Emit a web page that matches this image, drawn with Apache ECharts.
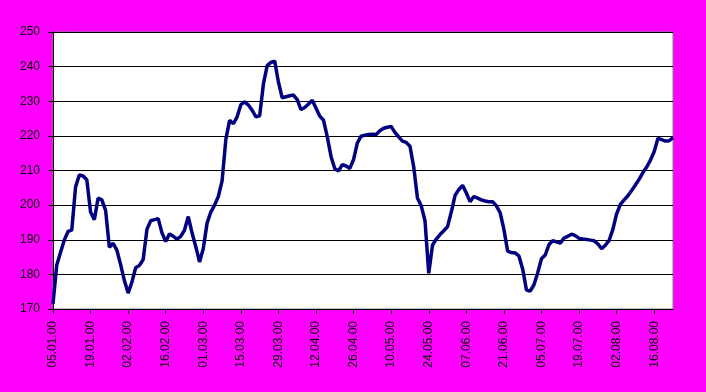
<!DOCTYPE html>
<html>
<head>
<meta charset="utf-8">
<script src="https://cdn.jsdelivr.net/npm/echarts@6/dist/echarts.min.js"></script>
<style>
  html, body { margin: 0; padding: 0; background: #ff00ff; }
  #chart { width: 706px; height: 392px; }
</style>
</head>
<body>
<div id="chart"></div>
<script>
// business days from 05.01.00 on, one value per day
const startDate = new Date(2000, 0, 5);
const dayCount = 166;

const values = [
  171.5, 182.7, 186.3, 189.9, 192.4, 192.8, 205.2, 208.7, 208.4, 207.3,
  198, 195.8, 202, 201.5, 198.5, 187.8, 189, 187, 182.8, 178.2,
  174.6, 177.8, 181.9, 182.6, 184.3, 193, 195.5, 195.8, 196.1, 192,
  189.5, 191.7, 191, 190.2, 191, 192.8, 196.7, 192, 188, 183.6,
  187.5, 194.8, 198, 200, 202.5, 207, 219, 224.5, 223.5, 225.5,
  229, 229.8, 228.9, 227.4, 225.5, 225.8, 235, 240.3, 241.2, 241.6,
  235.5, 231, 231.3, 231.6, 231.8, 230.5, 227.6, 228.2, 229.2, 230.3,
  228, 225.7, 224.5, 219.7, 214, 210.5, 209.9, 211.7, 211.3, 210.6,
  213.2, 218, 219.9, 220.2, 220.4, 220.5, 220.4, 221.5, 222.2, 222.5,
  222.7, 221, 219.7, 218.5, 218.1, 217, 211, 202, 199.8, 195.5,
  180.3, 188.5, 190.2, 191.5, 192.6, 193.8, 198, 202.8, 204.5, 205.7,
  203.5, 201, 202.5, 202, 201.5, 201.2, 201, 201, 199.8, 197.8,
  193, 186.7, 186.3, 186.2, 185.3, 181.5, 175.5, 175.2, 177, 180.5,
  184.5, 185.6, 188.6, 189.7, 189.4, 189, 190.5, 191, 191.6, 191.2,
  190.4, 190.2, 190.1, 189.9, 189.7, 188.8, 187.4, 188.4, 189.8, 193,
  197.5, 200.2, 201.5, 202.7, 204.2, 205.8, 207.5, 209.4, 211, 213,
  215.5, 219.3, 218.9, 218.5, 218.6, 219.5
];

function pad(n) {
  return n < 10 ? '0' + n : '' + n;
}

// dd.mm.yy labels, weekends skipped
const categories = [];
let d = new Date(startDate);
while (categories.length < dayCount) {
  const wd = d.getDay();
  if (wd !== 0 && wd !== 6) {
    categories.push(pad(d.getDate()) + '.' + pad(d.getMonth() + 1) + '.' + pad(d.getFullYear() % 100));
  }
  d.setDate(d.getDate() + 1);
}

const chart = echarts.init(document.getElementById('chart'));

const option = {
  backgroundColor: '#ff00ff',
  animation: false,
  grid: {
    left: 53,
    right: 33,
    top: 32,
    bottom: 83,
    show: true,
    backgroundColor: '#ffffff',
    borderColor: '#808080',
    borderWidth: 1
  },
  xAxis: {
    type: 'category',
    data: categories,
    boundaryGap: false,
    axisLine: { show: true, lineStyle: { color: '#000000', width: 1 } },
    axisTick: {
      show: true,
      interval: 9,
      length: 5,
      lineStyle: { color: '#000000' }
    },
    axisLabel: {
      interval: 9,
      rotate: 90,
      margin: 12,
      color: '#000000',
      fontFamily: 'Liberation Sans, Arial',
      fontSize: 12
    },
    splitLine: { show: false }
  },
  yAxis: {
    type: 'value',
    min: 170,
    max: 250,
    interval: 10,
    axisLine: { show: true, lineStyle: { color: '#000000', width: 1 } },
    axisTick: { show: true, length: 5, lineStyle: { color: '#000000' } },
    axisLabel: {
      margin: 13,
      color: '#000000',
      fontFamily: 'Liberation Sans, Arial',
      fontSize: 12
    },
    splitLine: { show: true, lineStyle: { color: '#000000', width: 1 } }
  },
  series: [
    {
      type: 'line',
      data: values,
      symbol: 'none',
      smooth: false,
      lineStyle: { color: '#000080', width: 3.5 }
    }
  ]
};

chart.setOption(option);
</script>
</body>
</html>
